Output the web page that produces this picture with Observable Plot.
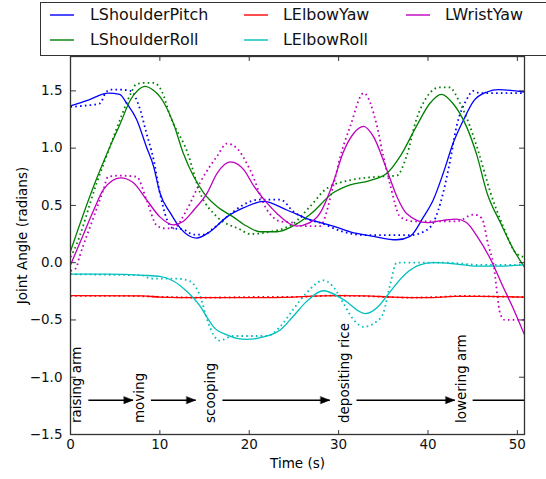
<!DOCTYPE html>
<html><head><meta charset="utf-8">
<script src="https://cdn.jsdelivr.net/npm/d3@7"></script>
<script src="https://cdn.jsdelivr.net/npm/@observablehq/plot@0.6"></script>
<style>
body{margin:0;background:#fff;width:546px;height:479px;overflow:hidden;font-family:"DejaVu Sans",sans-serif;}
#wrap{position:relative;width:546px;height:479px;}
#legend{position:absolute;left:40px;top:2px;width:540px;height:54px;border:1px solid #333;background:#fff;box-sizing:border-box;}
.lbl{position:absolute;font-size:15.9px;line-height:1;white-space:nowrap;color:#111;}
.sw{position:absolute;width:24px;height:4px;overflow:visible;}
</style></head>
<body><div id="wrap"><div id="chart"></div><div id="legend"></div></div>
<script>
// ---- data ----
const jointNames = ["LShoulderPitch", "LShoulderRoll", "LElbowYaw", "LElbowRoll", "LWristYaw"];
const jointColors = ["#0000ff", "#008000", "#ff0000", "#00bfbf", "#bf00bf"];

// LShoulderPitch
const pitchT = [0,2,4.2,5.5,6.3,7.4,8.5,9.3,10,11.2,12.3,14.1,15.6,17.5,19.4,21.6,24.2,26.8,29.4,31.3,33.9,36.5,38,39.5,40.6,41.7,42.8,44,45.1,46.6,47.9,50.8];
const pitchV = [1.37,1.42,1.48,1.47,1.39,1.25,1.01,0.84,0.61,0.43,0.30,0.215,0.27,0.40,0.48,0.535,0.46,0.375,0.32,0.27,0.23,0.20,0.23,0.40,0.55,0.78,1.04,1.25,1.41,1.49,1.51,1.49];
const pitchRefT = [0,1.5,3.3,3.9,4.4,5.5,6.7,7.8,8.5,9.3,10,10.8,11.5,12.6,13.8,14.9,16,17.5,19.7,21,23.5,24.9,26.4,27.9,30.5,33.2,38,39.5,40.6,41.7,42.5,43.2,44.3,45.1,45.8,48,50.8];
const pitchRefV = [1.36,1.37,1.39,1.48,1.51,1.51,1.50,1.335,1.13,0.90,0.61,0.375,0.30,0.29,0.245,0.245,0.30,0.40,0.52,0.55,0.55,0.45,0.38,0.35,0.27,0.24,0.24,0.27,0.35,0.61,0.90,1.19,1.42,1.50,1.48,1.48,1.48];

// LShoulderRoll
const rollT = [0,2.6,4.4,5.6,6.7,7.6,8.35,9.2,10,11.5,12.6,13.8,14.9,16.4,18.2,19.7,21.2,23.1,24.9,26.8,29.4,31.3,33.2,35.4,36.9,38.7,40.2,41.5,42.8,44.3,45.5,46.6,48.1,49.6,50.8];
const rollV = [0.10,0.67,1.01,1.22,1.42,1.51,1.54,1.51,1.45,1.22,0.96,0.75,0.61,0.49,0.40,0.32,0.27,0.27,0.32,0.42,0.61,0.68,0.71,0.78,0.93,1.19,1.39,1.47,1.39,1.19,0.93,0.61,0.35,0.11,-0.04];
const rollRefT = [0,0.4,2.95,4.5,5.8,6.7,7.4,8.3,9.3,10.2,11.15,13.1,14.5,16.4,19,20.1,22,24.9,26.8,28.7,31.3,34.3,36.5,37.6,38.7,39.9,41.3,42.4,43.6,44.7,45.8,47,48.4,49.9,50.8];
const rollRefV = [0.05,0.11,0.70,1.03,1.30,1.47,1.56,1.57,1.57,1.50,1.28,0.96,0.61,0.40,0.29,0.25,0.265,0.34,0.49,0.65,0.72,0.75,0.76,0.93,1.25,1.45,1.53,1.53,1.39,1.19,0.93,0.61,0.32,0.08,0.05];

// LElbowYaw
const yawT = [0,8,10,14,20,25,28,30,33,36,40,43,46,50.8];
const yawV = [-0.288,-0.29,-0.30,-0.305,-0.305,-0.30,-0.29,-0.288,-0.29,-0.30,-0.305,-0.295,-0.295,-0.30];
const yawRefT = [0,6,10,15,20,26,29,32,35,38,41,44,47,50.8];
const yawRefV = [-0.29,-0.29,-0.298,-0.305,-0.30,-0.298,-0.288,-0.29,-0.298,-0.305,-0.30,-0.29,-0.295,-0.30];

// LElbowRoll
const elbowRollT = [0,4,8.2,10,11.5,13,14.5,15.3,16,17.5,19.7,22,23.5,24.9,26.4,28.3,30.5,33,34.6,35.4,37.6,39.1,40.6,43,45.5,48,50.8];
const elbowRollV = [-0.10,-0.10,-0.11,-0.12,-0.16,-0.25,-0.38,-0.48,-0.56,-0.63,-0.67,-0.64,-0.585,-0.47,-0.34,-0.245,-0.32,-0.445,-0.37,-0.29,-0.09,-0.02,0.0,-0.01,-0.03,-0.03,-0.02];
const elbowRollRefT = [0,4,8,9,12,13.3,14.5,15.3,16,16.7,18.2,22,23.5,24.9,26.4,28.3,29.4,30.5,31.7,32.8,34.3,35,35.8,36.5,38,42,46,50.8];
const elbowRollRefV = [-0.10,-0.105,-0.11,-0.14,-0.14,-0.16,-0.29,-0.50,-0.63,-0.68,-0.64,-0.64,-0.555,-0.41,-0.265,-0.155,-0.21,-0.35,-0.50,-0.56,-0.51,-0.44,-0.18,0.0,0.0,0.0,-0.02,-0.02];

// LWristYaw
const wristT = [0,1.3,2.6,3.7,5.6,7,8.5,10,11.5,12.6,13.8,15.3,16.4,17.9,19.4,20.5,22,23.1,25.3,26.8,27.9,29.4,30.5,31.7,32.8,33.9,35.4,36.5,37.6,39.9,41.7,43.2,44.3,45.5,47,48.4,49.6,50.8];
const wristV = [-0.02,0.22,0.46,0.64,0.74,0.70,0.55,0.40,0.33,0.36,0.46,0.61,0.78,0.88,0.81,0.67,0.52,0.43,0.32,0.35,0.43,0.70,0.96,1.13,1.19,1.10,0.81,0.58,0.43,0.35,0.37,0.38,0.35,0.23,0.03,-0.21,-0.41,-0.63];
const wristRefT = [0,0.6,1.0,2.6,3.7,4.2,5.5,7.4,8.5,9.7,10.5,11.5,13,14.5,16.4,17.5,18.6,20.1,22,23.5,24.9,26,27.9,29.4,30.2,31.3,32.8,34.3,35,35.8,36.9,38.4,43.2,45.1,46,46.8,47.3,48.1,48.6,50.8];
const wristRefV = [-0.07,-0.05,0.05,0.40,0.64,0.75,0.76,0.75,0.55,0.32,0.30,0.30,0.46,0.70,0.93,1.04,1.00,0.81,0.46,0.36,0.35,0.32,0.32,0.67,0.93,1.19,1.48,1.19,0.93,0.67,0.40,0.36,0.36,0.42,0.39,0.14,0.0,-0.45,-0.50,-0.50];

// phases
const phaseLabels = ["raising arm", "moving", "scooping", "depositing rice", "lowering arm"];
const phaseX = [0, 7, 15, 30, 43];
const phaseLabelY = -1.4;
const arrowStart = [2, 9, 17, 32, 45];
const arrowEnd = [7, 14, 29, 43, 53];
const arrowY = -1.2;

// axes
const xTicks = [0, 10, 20, 30, 40, 50];
const yTicks = [-1.5, -1.0, -0.5, 0.0, 0.5, 1.0, 1.5];
const xDomain = [0, 50.8];
const yDomain = [-1.5, 1.8];

// ---- build tables ----
const solid = [[pitchT,pitchV],[rollT,rollV],[yawT,yawV],[elbowRollT,elbowRollV],[wristT,wristV]];
const dotted = [[pitchRefT,pitchRefV],[rollRefT,rollRefV],[yawRefT,yawRefV],[elbowRollRefT,elbowRollRefV],[wristRefT,wristRefV]];
const toRows = (pairs) => pairs.flatMap(([T, V], i) => T.map((t, k) => ({joint: jointNames[i], t, v: V[k]})));
const solidRows = toRows(solid);
const dottedRows = toRows(dotted);
const arrows = arrowStart.map((s, i) => ({x1: s, x2: arrowEnd[i], y: arrowY}));
const phases = phaseLabels.map((p, i) => ({label: p, x: phaseX[i], y: phaseLabelY}));

const tickShape = {draw(ctx, l) { ctx.moveTo(0, 0); ctx.lineTo(0, -l); }};
const headShape = {draw(ctx, l) { const w = 3.5; ctx.moveTo(-w, 0); ctx.lineTo(0, -l); ctx.lineTo(w, 0); ctx.closePath(); }};

const colorScale = {domain: jointNames, range: jointColors};

const chart = Plot.plot({
  width: 546, height: 479,
  marginLeft: 70, marginRight: 22, marginTop: 56, marginBottom: 45,
  style: {fontFamily: "DejaVu Sans", fontSize: "13.5px", color: "#111", background: "white"},
  x: {domain: xDomain, label: null},
  y: {domain: yDomain, label: null},
  color: colorScale,
  marks: [
    Plot.line(dottedRows, {x: "t", y: "v", z: "joint", stroke: "joint", strokeWidth: 1.8, strokeDasharray: "1.6,3.2", strokeLinecap: "butt", curve: "monotone-x"}),
    Plot.line(solidRows, {x: "t", y: "v", z: "joint", stroke: "joint", strokeWidth: 1.3, curve: "monotone-x"}),
    Plot.link(arrows, {x1: "x1", x2: "x2", y1: "y", y2: "y", stroke: "black", strokeWidth: 1.5, clip: true}),
    Plot.vector(arrows, {x: "x2", y: "y", rotate: 90, length: 9, anchor: "end", shape: headShape, fill: "black", stroke: "black", strokeWidth: 0.5, clip: true}),
    Plot.text(phases, {x: "x", y: "y", text: "label", rotate: -90, textAnchor: "start", dx: 6.5, fill: "black"}),
    Plot.frame({stroke: "#333", strokeWidth: 1.3}),
    Plot.vector(xTicks, {x: d => d, frameAnchor: "bottom", rotate: 0, length: 4, anchor: "start", shape: tickShape, stroke: "#333", strokeWidth: 1}),
    Plot.vector(xTicks, {x: d => d, frameAnchor: "top", rotate: 180, length: 4, anchor: "start", shape: tickShape, stroke: "#333", strokeWidth: 1}),
    Plot.vector(yTicks, {y: d => d, frameAnchor: "left", rotate: 90, length: 5, anchor: "start", shape: tickShape, stroke: "#333", strokeWidth: 1}),
    Plot.vector(yTicks, {y: d => d, frameAnchor: "right", rotate: -90, length: 5, anchor: "start", shape: tickShape, stroke: "#333", strokeWidth: 1}),
    Plot.axisX({ticks: xTicks, tickSize: 0, tickPadding: 5, tickFormat: d3.format("d"), label: null}),
    Plot.axisY({ticks: yTicks, tickSize: 0, tickPadding: 8, tickFormat: d3.format(".1f"), label: null}),
    Plot.text(["Time (s)"], {frameAnchor: "bottom", dy: 24, lineAnchor: "top", textAnchor: "middle", fill: "black"}),
    Plot.text(["Joint Angle (radians)"], {frameAnchor: "left", rotate: -90, textAnchor: "middle", dx: -48, dy: -10, fill: "black"})
  ]
});
document.getElementById("chart").appendChild(chart);

// legend (matplotlib-like, 3 columns, column-major)
const legendBox = document.getElementById("legend");
const colSwatchX = [9, 203, 365];
const colTextX = [49, 242, 404];
const rowLineY = [10, 34.5];
const rowTextTop = [4.2, 28.7];
const SVGNS = "http://www.w3.org/2000/svg";
jointNames.forEach((jn, i) => {
  const c = Math.floor(i / 2), r = i % 2;
  const sw = document.createElementNS(SVGNS, "svg");
  sw.setAttribute("class", "sw");
  sw.setAttribute("width", "24");
  sw.setAttribute("height", "4");
  sw.style.left = colSwatchX[c] + "px";
  sw.style.top = rowLineY[r] + "px";
  const ln = document.createElementNS(SVGNS, "line");
  ln.setAttribute("x1", "0"); ln.setAttribute("x2", "24");
  ln.setAttribute("y1", "2"); ln.setAttribute("y2", "2");
  ln.setAttribute("stroke", jointColors[i]);
  ln.setAttribute("stroke-width", "1.4");
  sw.appendChild(ln);
  legendBox.appendChild(sw);
  const tx = document.createElement("div");
  tx.className = "lbl";
  tx.style.left = colTextX[c] + "px";
  tx.style.top = rowTextTop[r] + "px";
  tx.textContent = jn;
  legendBox.appendChild(tx);
});
</script>
</body></html>
